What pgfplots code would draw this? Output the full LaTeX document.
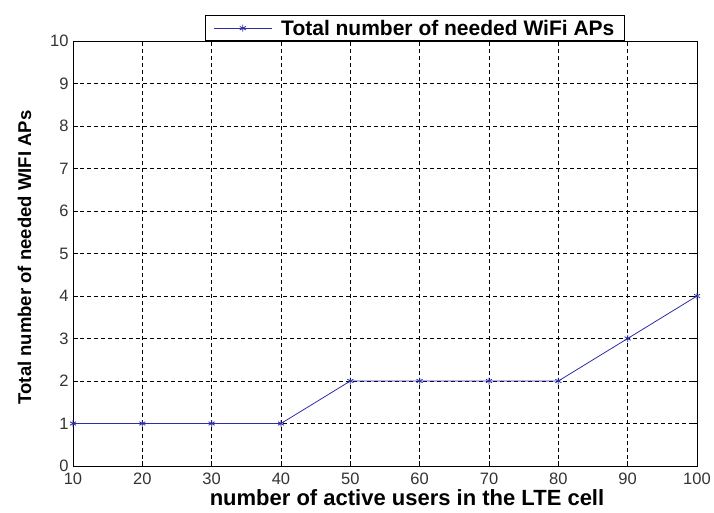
\documentclass[border=0pt]{standalone}
\usepackage{fontspec}
\setmainfont{Liberation Sans}
\usepackage{pgfplots}
\pgfplotsset{compat=1.18}
\definecolor{mblue}{RGB}{45,45,165}
\begin{document}
\begin{tikzpicture}
\path[use as bounding box] (-73pt,-46pt) rectangle (641pt,466pt);
\begin{axis}[
  at={(0,0)}, anchor=south west,
  scale only axis, width=624pt, height=425pt,
  xmin=10, xmax=100, ymin=0, ymax=10,
  xtick={10,20,...,100}, ytick={0,1,...,10},
  tick align=inside, major tick length=5pt,
  xtick pos=both, ytick pos=both,
  /pgf/number format/assume math mode=true,
  tick label style={font=\fontsize{16.5}{18}\selectfont, text=black!80},
  xticklabel style={yshift=-3pt},
  yticklabel style={xshift=-1pt},
  xlabel={\textbf{number of active users in the LTE cell}},
  ylabel={\textbf{Total number of needed WIFI APs}},
  xlabel style={font=\fontsize{22}{24}\selectfont, yshift=2pt, xshift=22pt},
  ylabel style={font=\fontsize{18.5}{20}\selectfont, yshift=12pt, xshift=-4pt},
  grid=major,
  major grid style={black, line width=0.8pt, dash pattern=on 4pt off 3pt},
  axis line style={black, line width=0.9pt},
  every tick/.style={black, line width=0.9pt},
  legend style={at={(0.2115,1.0)}, anchor=south west, draw=black, line width=0.9pt,
    font=\fontsize{21}{22}\selectfont\bfseries, inner xsep=8pt, inner ysep=2pt,
    /tikz/every odd column/.append style={column sep=7pt}},
  legend image code/.code={
    \draw[mark repeat=2,mark phase=2] plot coordinates {(0pt,0pt) (29pt,0pt) (58pt,0pt)};},
  clip=false,
]
\addplot[mblue, line width=0.8pt, mark=asterisk, mark size=3.5pt, mark options={line width=0.8pt}]
coordinates {(10,1) (20,1) (30,1) (40,1) (50,2) (60,2) (70,2) (80,2) (90,3) (100,4)};
\addlegendentry{Total number of needed WiFi APs}
\end{axis}
\end{tikzpicture}
\end{document}
